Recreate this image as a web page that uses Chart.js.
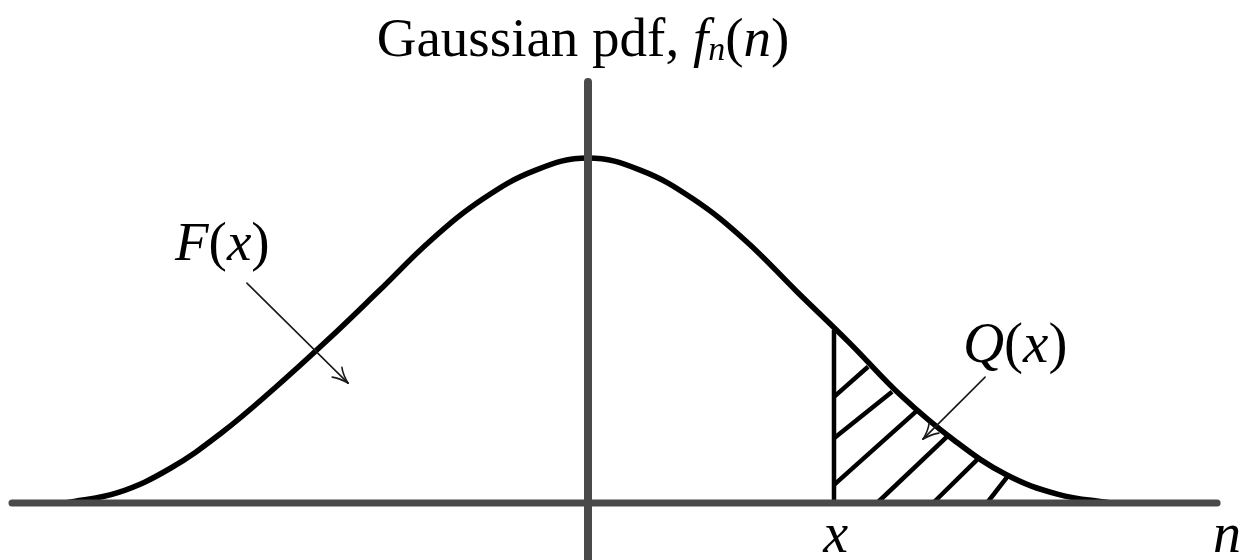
<!DOCTYPE html>
<html>
<head>
<meta charset="utf-8">
<script src="https://cdn.jsdelivr.net/npm/chart.js@4/dist/chart.umd.min.js"></script>
<style>
  html, body { margin: 0; padding: 0; background: #ffffff; }
  #wrap { width: 1253px; height: 560px; }
</style>
</head>
<body>
<div id="wrap"><canvas id="c" width="1253" height="560"></canvas></div>
<script>
// ---- data (n in units of sigma, f = pdf value) ----
const nGrid = [-2.5, -2.25, -2.0, -1.75, -1.5, -1.25, -1.0, -0.75, -0.5, -0.25, 0,
               0.25, 0.5, 0.75, 1.0, 1.25, 1.5, 1.75, 2.0, 2.25, 2.5];
const pdfValues = [0.000, 0.012, 0.040, 0.082, 0.133, 0.188, 0.246, 0.305, 0.353, 0.386, 0.400,
                   0.386, 0.353, 0.305, 0.245, 0.186, 0.124, 0.073, 0.033, 0.010, 0.000];
// threshold x and the height of the curve there
const xThreshold = 1.177;
const xThresholdPdf = 0.2006;
// hatch strokes inside Q(x): start and end points
const hatchStartN = [1.177, 1.177, 1.177, 1.383, 1.651, 1.909];
const hatchStartF = [0.123, 0.075, 0.021, 0.000, 0.000, 0.000];
const hatchEndN   = [1.340, 1.455, 1.569, 1.718, 1.861, 2.005];
const hatchEndF   = [0.158, 0.129, 0.106, 0.077, 0.050, 0.030];
// axis extents
const horizAxisN = [-2.756, 3.010];
const vertAxisF  = [-0.065, 0.488];

// ---- layout (pixel mapping of the plot) ----
const PX_PER_N = 209, PX_PER_F = 862.5, ORIGIN_X = 588, ORIGIN_Y = 503;
const W = 1253, H = 560;

const SERIF = '"Liberation Serif", "DejaVu Serif", serif';
const BLACK = '#000000';
const AXIS_GRAY = '#4a4a4a';

const curveData = nGrid.map((n, i) => ({ x: n, y: pdfValues[i] }));
const datasets = [];
// axes (drawn on top, first datasets)
datasets.push({ data: [{x: horizAxisN[0], y: 0}, {x: horizAxisN[1], y: 0}],
  borderColor: AXIS_GRAY, borderWidth: 7, borderCapStyle: 'round', pointRadius: 0, showLine: true });
datasets.push({ data: [{x: 0, y: vertAxisF[0]}, {x: 0, y: vertAxisF[1]}],
  borderColor: AXIS_GRAY, borderWidth: 8, borderCapStyle: 'round', pointRadius: 0, showLine: true });
// curve
datasets.push({ data: curveData, borderColor: BLACK, borderWidth: 5.5, pointRadius: 0,
  showLine: true, tension: 0.4, borderCapStyle: 'round', borderJoinStyle: 'round' });
// threshold line
datasets.push({ data: [{x: xThreshold, y: 0}, {x: xThreshold, y: xThresholdPdf}],
  borderColor: BLACK, borderWidth: 4.5, pointRadius: 0, showLine: true });
// hatch strokes
for (let i = 0; i < hatchStartN.length; i++) {
  datasets.push({ data: [{x: hatchStartN[i], y: hatchStartF[i]}, {x: hatchEndN[i], y: hatchEndF[i]}],
    borderColor: BLACK, borderWidth: 4.5, pointRadius: 0, showLine: true });
}

// annotation text & arrows (data coordinates)
const labels = [
  { parts: [['F', 'italic'], ['(', 'normal'], ['x', 'italic'], [')', 'normal']], n: -1.976, f: 0.282, size: 55 },
  { parts: [['Q', 'italic'], ['(', 'normal'], ['x', 'italic'], [')', 'normal']], n: 1.794, f: 0.163, size: 57 },
  { parts: [['x', 'italic']], n: 1.125, f: -0.057, size: 56 },
  { parts: [['n', 'italic']], n: 2.99, f: -0.057, size: 56 }
];
const arrows = [
  { from: [-1.632, 0.255], to: [-1.148, 0.139] },
  { from: [1.900, 0.146], to: [1.603, 0.074] }
];

function drawRuns(ctx, runs, x, y) {
  let cx = x;
  for (const r of runs) {
    ctx.font = r.style + ' ' + r.size + 'px ' + SERIF;
    ctx.fillText(r.text, cx, y + (r.dy || 0));
    cx += ctx.measureText(r.text).width;
  }
  return cx - x;
}
function runsWidth(ctx, runs) {
  let w = 0;
  for (const r of runs) { ctx.font = r.style + ' ' + r.size + 'px ' + SERIF; w += ctx.measureText(r.text).width; }
  return w;
}

const annotPlugin = {
  id: 'annot',
  afterDraw(chart) {
    const ctx = chart.ctx, xs = chart.scales.x, ys = chart.scales.y;
    ctx.save();
    ctx.fillStyle = BLACK;
    ctx.textBaseline = 'alphabetic';
    ctx.textAlign = 'left';
    // title
    const titleRuns = [
      { text: 'Gaussian pdf, ', style: 'normal', size: 55 },
      { text: 'f', style: 'italic', size: 55 },
      { text: 'n', style: 'italic', size: 34, dy: 4 },
      { text: '(', style: 'normal', size: 55 },
      { text: 'n', style: 'italic', size: 55 },
      { text: ')', style: 'normal', size: 55 }
    ];
    const tw = runsWidth(ctx, titleRuns);
    drawRuns(ctx, titleRuns, xs.getPixelForValue(0) - 5 - tw / 2, 56);
    // labels
    for (const l of labels) {
      const runs = l.parts.map(p => ({ text: p[0], style: p[1], size: l.size }));
      drawRuns(ctx, runs, xs.getPixelForValue(l.n), ys.getPixelForValue(l.f));
    }
    // arrows
    ctx.strokeStyle = '#1a1a1a';
    ctx.lineWidth = 1.6;
    ctx.lineCap = 'round';
    for (const a of arrows) {
      const x1 = xs.getPixelForValue(a.from[0]), y1 = ys.getPixelForValue(a.from[1]);
      const x2 = xs.getPixelForValue(a.to[0]), y2 = ys.getPixelForValue(a.to[1]);
      ctx.beginPath(); ctx.moveTo(x1, y1); ctx.lineTo(x2, y2); ctx.stroke();
      const ang = Math.atan2(y2 - y1, x2 - x1);
      const L = 17, spread = 0.42;
      for (const s of [-1, 1]) {
        const bx = x2 - L * Math.cos(ang + s * spread), by = y2 - L * Math.sin(ang + s * spread);
        const mx = x2 - 0.5 * L * Math.cos(ang), my = y2 - 0.5 * L * Math.sin(ang);
        ctx.beginPath(); ctx.moveTo(bx, by);
        ctx.quadraticCurveTo((mx + bx) / 2 + (x2 - bx) * 0.15, (my + by) / 2 + (y2 - by) * 0.15, x2, y2);
        ctx.stroke();
      }
    }
    ctx.restore();
  }
};

new Chart(document.getElementById('c'), {
  type: 'scatter',
  data: { datasets },
  options: {
    responsive: false,
    animation: false,
    devicePixelRatio: 1,
    layout: { padding: 0 },
    plugins: { legend: { display: false }, tooltip: { enabled: false }, title: { display: false } },
    scales: {
      x: { type: 'linear', display: false, min: -ORIGIN_X / PX_PER_N, max: (W - ORIGIN_X) / PX_PER_N },
      y: { type: 'linear', display: false, min: -(H - ORIGIN_Y) / PX_PER_F, max: ORIGIN_Y / PX_PER_F }
    }
  },
  plugins: [annotPlugin]
});
</script>
</body>
</html>
